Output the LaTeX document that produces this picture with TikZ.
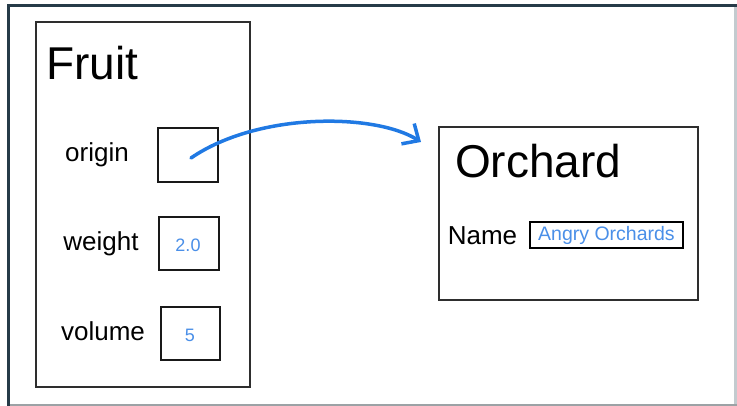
\documentclass[tikz,border=0pt]{standalone}
\usepackage{fontspec}
\setmainfont{Liberation Sans}
\usetikzlibrary{arrows.meta}

\definecolor{framedark}{HTML}{263B48}
\definecolor{framelight}{HTML}{C3CBCF}
\definecolor{boxline}{HTML}{2E2E2E}
\definecolor{linkblue}{HTML}{2079E3}
\definecolor{valblue}{HTML}{4A8FE8}

\tikzset{
  objbox/.style={draw=boxline, line width=2.2pt, fill=white, inner sep=0pt},
  slotbox/.style={draw=black!90, line width=2.4pt, inner sep=0pt},
  title/.style={anchor=base west, inner sep=0pt, font=\fontsize{46}{50}\selectfont},
  field/.style={inner sep=0pt, font=\fontsize{26}{30}\selectfont},
  value/.style={inner sep=0pt, text=valblue, font=\fontsize{18}{20}\selectfont},
  link/.style={draw=linkblue, line width=3.5pt, line cap=round,
    -{Straight Barb[length=13pt,width=24pt,line width=3.5pt]}}
}

\begin{document}
\begin{tikzpicture}[x=1pt,y=-1pt]
  \useasboundingbox (0,0) rectangle (737,406);
  \fill[white] (0,0) rectangle (737,406);

  % surrounding frame
  \draw[framelight, line width=2.5pt] (735.5,5) -- (735.5,406);
  \draw[framelight!80!black, line width=2pt] (8,404.5) -- (737,404.5);
  \draw[framedark, line width=3pt] (737,5.5) -- (8.5,5.5) -- (8.5,406);

  % Fruit object
  \node[objbox, minimum width=214pt, minimum height=365pt] (fruit) at (143,204.5) {};
  \node[title] (fruittitle) at (46,80) {Fruit};

  \node[field] (originlbl) at (97,155) {origin};
  \node[slotbox, minimum width=60pt, minimum height=54pt] (originbox) at (188,155) {};

  \node[field] (weightlbl) at (101,244) {weight};
  \node[slotbox, minimum width=60pt, minimum height=53pt] (weightbox) at (189,243.5) {};
  \node[value] (weightval) at (188,245) {2.0};

  \node[field] (volumelbl) at (103,331) {volume};
  \node[slotbox, minimum width=59pt, minimum height=53pt] (volumebox) at (190.5,333.5) {};
  \node[value] (volumeval) at (190,335) {5};

  % Orchard object
  \node[objbox, minimum width=259pt, minimum height=173pt] (orchard) at (568.5,213.5) {};
  \node[title] (orchardtitle) at (455,178) {Orchard};
  \node[field] (namelbl) at (482.5,236) {Name};
  \node[draw=black, line width=2.2pt, fill=white, inner sep=0pt,
        minimum width=153pt, minimum height=26pt] (namebox) at (606.5,235) {};
  \node[value, font=\fontsize{19.5}{22}\selectfont] (nameval) at (606.5,235.5) {Angry Orchards};

  % reference from origin to the Orchard object
  \coordinate (ref) at (191,158);
  \coordinate (refend) at (421,142);
  \draw[link] (ref) .. controls (258,112) and (375,113) .. (refend);
\end{tikzpicture}
\end{document}
